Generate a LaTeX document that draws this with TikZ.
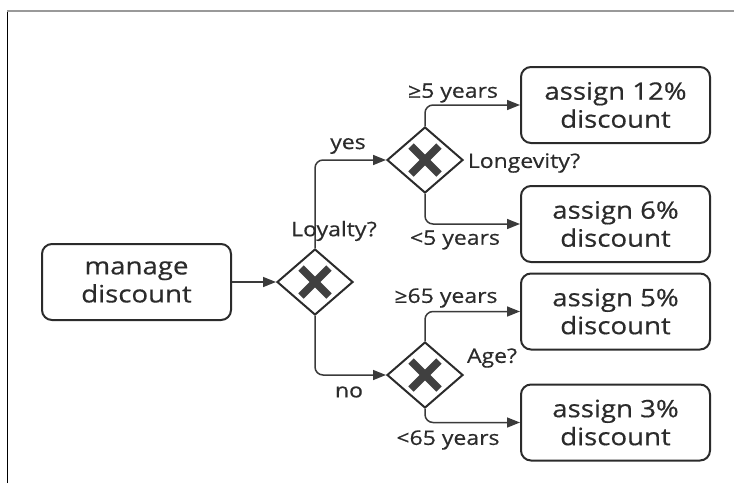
\documentclass[tikz,border=0pt]{standalone}
\usepackage{fontspec}
\setmainfont{Open Sans}[FakeStretch=1.15,FakeBold=0.5]
\usetikzlibrary{shapes.geometric,arrows.meta}
\definecolor{ink}{HTML}{2B2B2B}
\definecolor{edge}{HTML}{3A3A3A}
\tikzset{
  task/.style={draw=ink, line width=2pt, rounded corners=10pt,
    minimum width=189pt, minimum height=76pt, inner sep=0pt, align=center,
    text=ink, font=\fontsize{24}{28}\selectfont},
  xgate/.style={draw=ink, line width=2pt, diamond, minimum width=76pt,
    minimum height=66pt, inner sep=0pt},
  flow/.style={draw=edge, line width=1.5pt, rounded corners=8pt,
    -{Triangle[length=13pt,width=10pt]}},
  lbl/.style={text=ink, inner sep=0pt, font=\fontsize{20}{24}\selectfont},
  xmark/.style={draw=ink!90, line width=7.5pt}
}
\newcommand{\gatecross}[1]{%
  \draw[xmark] ([shift={(-14pt,-14pt)}]#1.center) -- ([shift={(14pt,14pt)}]#1.center);
  \draw[xmark] ([shift={(-14pt,14pt)}]#1.center) -- ([shift={(14pt,-14pt)}]#1.center);}
\begin{document}
\begin{tikzpicture}[x=1pt,y=-1pt]
\useasboundingbox (0,0) rectangle (734,483);
% frame edges
\coordinate (fa) at (7,483);
\coordinate (fb) at (7,10.5);
\coordinate (fc) at (734,10.5);
\draw[black, line width=1pt] (fa) -- (fb);
\draw[gray!80, line width=2pt] (fb) -- (fc);

% tasks
\node[task] (start) at (136.5,282) {manage\\discount};
\node[task] (t12) at (615.5,105) {assign 12\%\\discount};
\node[task] (t6)  at (615.5,224) {assign 6\%\\discount};
\node[task] (t5)  at (615.5,311.5) {assign 5\%\\discount};
\node[task] (t3)  at (615.5,422.5) {assign 3\%\\discount};

% exclusive gateways
\node[xgate] (loy) at (315,282) {};
\node[xgate] (lon) at (425,160) {};
\node[xgate] (age) at (425,375) {};
\gatecross{loy}
\gatecross{lon}
\gatecross{age}

% sequence flows
\draw[flow] (start.east) -- (loy.west);
\draw[flow] (loy.north) |- (lon.west);
\draw[flow] (loy.south) |- (age.west);
\draw[flow] (lon.north) |- (t12.west);
\draw[flow] (lon.south) |- (t6.west);
\draw[flow] (age.north) |- (t5.west);
\draw[flow] (age.south) |- (t3.west);

% labels
\node[lbl] (qloy) at (334,231) {Loyalty?};
\node[lbl] (qlon) at (524,163) {Longevity?};
\node[lbl] (qage) at (492,358) {Age?};
\node[lbl] (lyes) at (348,146) {yes};
\node[lbl] (lno)  at (349,392) {no};
\node[lbl] (l5a)  at (453,93) {≥5 years};
\node[lbl] (l5b)  at (455,240) {<5 years};
\node[lbl] (l65a) at (446,298) {≥65 years};
\node[lbl] (l65b) at (448,440) {<65 years};
\end{tikzpicture}
\end{document}
